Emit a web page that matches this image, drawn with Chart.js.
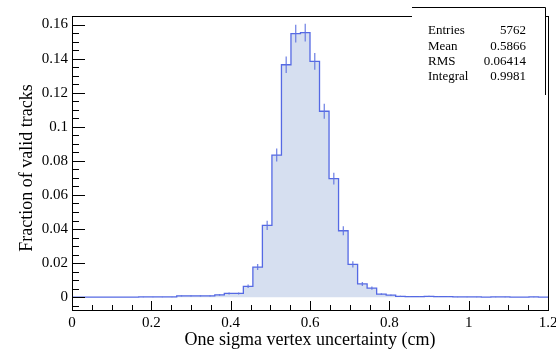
<!DOCTYPE html>
<html><head><meta charset="utf-8">
<script src="https://cdn.jsdelivr.net/npm/chart.js@4/dist/chart.umd.min.js"></script>
<style>html,body{margin:0;padding:0;background:#fff;overflow:hidden}#wrap{width:556px;height:350px}</style>
</head><body><div id="wrap"><canvas id="c" width="556" height="350"></canvas></div>
<script>
// ---- data ----
const binEdges = [0,0.024,0.048,0.072,0.096,0.12,0.144,0.168,0.192,0.216,0.24,0.264,0.288,0.312,0.336,0.36,0.384,0.408,0.432,0.456,0.48,0.504,0.528,0.552,0.576,0.6,0.624,0.648,0.672,0.696,0.72,0.744,0.768,0.792,0.816,0.84,0.864,0.888,0.912,0.936,0.96,0.984,1.008,1.032,1.056,1.08,1.104,1.128,1.152,1.176,1.2];
const binValues = [0,0,0,0,0,0,0,0.00017,0.00017,0.00017,0.00017,0.0008,0.0008,0.0008,0.0008,0.0014,0.0022,0.0022,0.0064,0.0177,0.0421,0.0834,0.1364,0.1547,0.1553,0.1384,0.1091,0.0696,0.0390,0.0193,0.0078,0.0053,0.0018,0.0012,0.0005,0.0004,0.0004,0.0005,0.0004,0.0004,0.00017,0.00017,0.00017,0,0.00017,0.00017,0,0,0.00017,0];
const binErrors = [0,0,0,0,0,0,0,0.00017,0.00017,0.00017,0.00017,0.00037,0.00037,0.00037,0.00037,0.00049,0.00062,0.00062,0.00105,0.00175,0.0027,0.0038,0.0049,0.0052,0.0052,0.0049,0.0044,0.0035,0.0026,0.0018,0.00116,0.00096,0.00056,0.00046,0.0003,0.00026,0.00026,0.0003,0.00026,0.00026,0.00017,0.00017,0.00017,0,0.00017,0.00017,0,0,0.00017,0];
const xTickValues = [0,0.2,0.4,0.6,0.8,1,1.2];
const yTickValues = [0,0.02,0.04,0.06,0.08,0.1,0.12,0.14,0.16];
const statNames = ['Entries','Mean','RMS','Integral'];
const statValues = ['5762','0.5866','0.06414','0.9981'];
const xTitle = 'One sigma vertex uncertainty (cm)';
const yTitle = 'Fraction of valid tracks';

// ---- build datasets ----
const histPts = [];
binValues.forEach((v,i)=>{ histPts.push({x:binEdges[i],y:v}); histPts.push({x:binEdges[i+1],y:v}); });
const errPts = [];
binValues.forEach((v,i)=>{
  if (v>0) {
    const c = (binEdges[i]+binEdges[i+1])/2;
    errPts.push({x:c,y:v-binErrors[i]}); errPts.push({x:c,y:v+binErrors[i]}); errPts.push({x:c,y:null});
  }
});
const fmt = v => String(Math.round(v*1000)/1000);
const SERIF = '"Liberation Serif","DejaVu Serif",serif';

const rootPlugin = {
  id:'rootFrame',
  afterDatasetsDraw(chart){
    const {ctx, chartArea:a, scales:{x,y}} = chart;
    ctx.save();
    ctx.strokeStyle='#000'; ctx.lineWidth=1;
    ctx.beginPath();
    for (let k=0;k<yTickValues.length;k++){
      const py=Math.round(y.getPixelForValue(yTickValues[k]))+0.5;
      ctx.moveTo(a.left,py); ctx.lineTo(a.left+13,py);
    }
    const ystep = yTickValues[1]-yTickValues[0];
    for (let v=yTickValues[0]-ystep; v<=y.max+1e-9; v+=ystep/4){
      if (v<y.min-1e-9) continue;
      const py=Math.round(y.getPixelForValue(v))+0.5;
      ctx.moveTo(a.left,py); ctx.lineTo(a.left+7,py);
    }
    for (const v of xTickValues){
      const px=Math.round(x.getPixelForValue(v))+0.5;
      ctx.moveTo(px,a.bottom); ctx.lineTo(px,a.bottom-9);
    }
    const xstep = xTickValues[1]-xTickValues[0];
    for (let v=0; v<=x.max+1e-9; v+=xstep/4){
      const px=Math.round(x.getPixelForValue(v))+0.5;
      ctx.moveTo(px,a.bottom); ctx.lineTo(px,a.bottom-5);
    }
    ctx.stroke();
    ctx.strokeRect(Math.round(a.left)+0.5, Math.round(a.top)+0.5, Math.round(a.right-a.left), Math.round(a.bottom-a.top));
    // stats box
    ctx.fillStyle='#fff';
    ctx.fillRect(412,7,133,88);
    ctx.beginPath();
    ctx.moveTo(412,7.5); ctx.lineTo(545.5,7.5); ctx.lineTo(545.5,95);
    ctx.stroke();
    ctx.fillStyle='#000';
    ctx.font='13px '+SERIF; ctx.textBaseline='middle';
    statNames.forEach((n,i)=>{
      ctx.textAlign='left'; ctx.fillText(n,428,31+i*15.2);
      ctx.textAlign='right'; ctx.fillText(statValues[i],526,31+i*15.2);
    });
    ctx.font='18px '+SERIF;
    ctx.textAlign='center'; ctx.textBaseline='middle';
    ctx.fillText(xTitle,(a.left+a.right)/2,340);
    ctx.translate(27,(a.top+a.bottom)/2+5);
    ctx.rotate(-Math.PI/2);
    ctx.fillText(yTitle,0,0);
    ctx.restore();
  }
};

new Chart(document.getElementById('c'),{
  type:'line',
  data:{datasets:[
    {data:errPts, borderColor:'rgba(95,115,225,0.85)', borderWidth:1.3, pointRadius:0, fill:false, spanGaps:false, order:1},
    {data:histPts, borderColor:'rgb(85,105,228)', backgroundColor:'rgb(214,223,240)', borderWidth:1.3, pointRadius:0, fill:'origin', tension:0, order:2}
  ]},
  options:{
    responsive:false, animation:false, devicePixelRatio:1,
    layout:{padding:{top:16,right:8,left:0,bottom:0}},
    plugins:{legend:{display:false}, tooltip:{enabled:false}},
    scales:{
      x:{type:'linear', min:0, max:1.2,
        grid:{display:false, drawTicks:false}, border:{display:false},
        ticks:{font:{family:SERIF,size:15}, color:'#000', padding:4, maxRotation:0, autoSkip:false, callback:v=>fmt(v)},
        afterBuildTicks:s=>{s.ticks=xTickValues.map(v=>({value:v}));},
        afterFit:s=>{s.height=40; s.paddingLeft=0; s.paddingRight=0;}
      },
      y:{type:'linear', min:-0.0075, max:0.165,
        grid:{display:false, drawTicks:false}, border:{display:false},
        ticks:{font:{family:SERIF,size:15}, color:'#000', padding:4, autoSkip:false, callback:v=>fmt(v)},
        afterBuildTicks:s=>{s.ticks=yTickValues.map(v=>({value:v}));},
        afterFit:s=>{s.width=72; s.paddingTop=0; s.paddingBottom=0;}
      }
    }
  },
  plugins:[rootPlugin]
});
</script></body></html>
